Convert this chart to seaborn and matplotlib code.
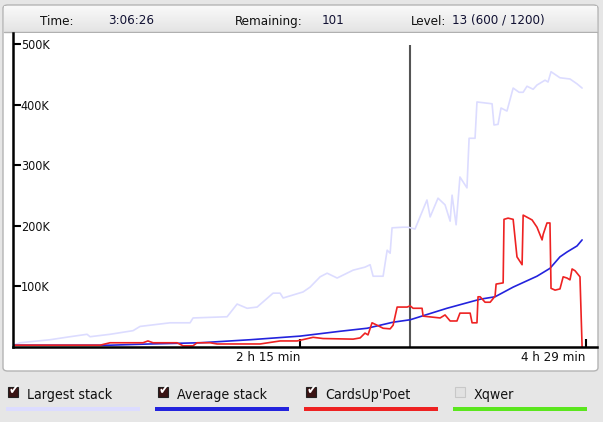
import numpy as np
import pandas as pd
import matplotlib
matplotlib.use("Agg")
import matplotlib.pyplot as plt
import seaborn as sns
from matplotlib.patches import Rectangle, FancyBboxPatch

# ---------------- data (minutes, thousands of chips) ----------------
largest_min = [0, 3.3, 17.4, 26.8, 34.8, 36.2, 45.6, 56.4, 59.7, 73.8, 83.2, 84.6, 100.6, 105.3,
               110, 114.7, 122.2, 125.5, 126.9, 136.3, 139.6, 144.3, 147.6, 152.3, 159.8, 165.4,
               167.8, 169.2, 173.9, 175.8, 177.2, 178.1, 183.3, 185.6, 188.9, 194.5, 196, 199.7,
               203, 205.4, 206.3, 208.2, 210, 213.3, 214.3, 217.1, 218, 225.1, 226, 227.9, 229.3,
               232.1, 235, 237.8, 239.7, 241.5, 244.4, 246.2, 250, 251.4, 252.8, 257, 261.7, 265,
               267.4]
largest_k = [3, 7, 12, 17, 21, 17, 21, 27, 34, 40, 40, 48, 50, 71,
             64, 66, 89, 89, 81, 91, 99, 116, 122, 114, 127, 132,
             136, 117, 117, 160, 155, 197, 198, 198, 195, 243, 215, 246,
             235, 208, 251, 202, 281, 263, 345, 345, 405, 402, 367, 368, 395,
             390, 428, 421, 421, 431, 426, 433, 441, 438, 455, 445, 443, 435,
             428]

average_min = [0, 45.6, 64.4, 87.9, 111.4, 134.9, 153.7, 166.4, 178.6, 186.6, 203.9, 219.5,
               226.5, 235, 246.2, 252.3, 257, 260.3, 265, 267.4]
average_k = [3, 3, 5, 7, 12, 18, 26, 31, 41, 45, 64, 79,
             83, 99, 117, 130, 149, 157, 167, 177]

poet_min = [0.9, 40.9, 45.6, 61.1, 63.4, 65.8, 77.1, 79.9, 84.6, 86.5, 92.6, 95.9, 116.1,
            125.5, 133.5, 141, 145.7, 159.8, 163.1, 165.4, 166.8, 168.7, 171.1, 173.9, 177.2,
            178.6, 180.5, 185.2, 186.6, 188, 192.2, 192.7, 200.7, 203, 205.4, 208.6, 210,
            214.8, 215.7, 218, 218.5, 219.5, 221.8, 224.2, 226.5, 227, 230.3, 230.7, 232.6,
            235, 236.8, 239.2, 239.7, 243.9, 246.2, 248.6, 249.1, 250.9, 252.3, 252.8, 254.7,
            257, 258.5, 260.3, 261.7, 262.7, 264.1, 266.4, 267.4]
poet_k = [3, 3, 7, 7, 10, 7, 7, 2, 2, 7, 7, 5, 5,
          10, 10, 16, 14, 13, 15, 23, 20, 40, 36, 31, 30,
          36, 66, 66, 68, 64, 64, 51, 48, 53, 43, 43, 56,
          56, 40, 40, 83, 83, 74, 74, 84, 104, 106, 211, 213,
          211, 149, 136, 218, 210, 198, 177, 186, 205, 205, 97, 94,
          96, 116, 114, 111, 129, 126, 116, 0]

series_names = ["Largest stack", "Average stack", "CardsUp'Poet", "Xqwer"]
series_colors = ["#dcdcff", "#2323dd", "#ee2222", "#5be61e"]
series_checked = [True, True, True, False]

y_ticks_k = [100, 200, 300, 400, 500]
y_tick_labels = ["100K", "200K", "300K", "400K", "500K"]
x_ticks_min = [135, 269]
x_tick_labels = ["2 h 15 min", "4 h 29 min"]
current_min = 186.43

header_labels = ["Time:", "Remaining:", "Level:"]
header_values = ["3:06:26", "101", "13 (600 / 1200)"]

# ---------------- figure ----------------
W, H = 603, 422
sns.set_theme(style="white")
plt.rcParams["font.family"] = ["DejaVu Sans"]
plt.rcParams["font.stretch"] = "condensed"
FONT = dict(family="DejaVu Sans", stretch="condensed")

fig = plt.figure(figsize=(W / 100, H / 100), dpi=100, facecolor="#e6e6e6")

def fx(px):
    return px / W

def fy(py):
    return 1 - py / H

# outer frame (white panel)
frame = FancyBboxPatch((fx(3), fy(371)), fx(598) - fx(3), fy(5) - fy(371),
                       boxstyle="round,pad=0,rounding_size=0.008", transform=fig.transFigure,
                       facecolor="white", edgecolor="#b4b4b4", linewidth=1.0, zorder=-5)
fig.patches.append(frame)
# header bar
grad = np.linspace(0, 1, 50).reshape(-1, 1)
hax = fig.add_axes([fx(4), fy(32), fx(597) - fx(4), fy(6) - fy(32)], zorder=0.5)
hax.imshow(grad, aspect="auto", cmap=matplotlib.colors.LinearSegmentedColormap.from_list(
    "g", ["#f9f9f9", "#e4e4e4"]), extent=[0, 1, 0, 1])
hax.set_axis_off()
fig.add_artist(plt.Line2D([fx(4), fx(597)], [fy(32), fy(32)], color="#b0b0b0", lw=1.0,
                          transform=fig.transFigure))

hdr_label_x = [40, 235, 411]
hdr_value_x = [108, 322, 452]
for lx, vx, lab, val in zip(hdr_label_x, hdr_value_x, header_labels, header_values):
    fig.text(fx(lx), fy(21.5), lab, fontsize=9.5, color="#111111", va="center", ha="left",
             zorder=3, **FONT)
    fig.text(fx(vx), fy(20), val, fontsize=9.5, color="#111133", va="center", ha="left",
             zorder=3, **FONT)

# main axes
ax = fig.add_axes([fx(13), fy(347), fx(597) - fx(13), fy(33) - fy(347)], zorder=2)
ax.set_facecolor("white")

frames = [
    pd.DataFrame({"t": largest_min, "v": largest_k, "s": series_names[0]}),
    pd.DataFrame({"t": average_min, "v": average_k, "s": series_names[1]}),
    pd.DataFrame({"t": poet_min, "v": poet_k, "s": series_names[2]}),
]
for df, col in zip(frames, series_colors[:3]):
    sns.lineplot(data=df, x="t", y="v", ax=ax, color=col, linewidth=1.2,
                 estimator=None, sort=False, legend=False)

ax.vlines(current_min, 0, 499, color="#555555", linewidth=1.5, zorder=1)

ax.set_xlim(0, 274.4)
ax.set_ylim(0, 519)
for s in ["top", "right"]:
    ax.spines[s].set_visible(False)
for s in ["left", "bottom"]:
    ax.spines[s].set_visible(True)
    ax.spines[s].set_color("black")
    ax.spines[s].set_linewidth(1.8)

ax.set_yticks(y_ticks_k)
ax.set_yticklabels(y_tick_labels)
ax.tick_params(axis="y", direction="in", length=5.5, width=1.5, color="black",
               pad=-5.5, labelsize=9, left=True)
for lab in ax.get_yticklabels():
    lab.set_horizontalalignment("left")
    lab.set_color("#111111")
    lab.set_fontstretch("condensed")

ax.set_xticks(x_ticks_min)
ax.set_xticklabels(x_tick_labels)
ax.tick_params(axis="x", direction="in", length=6, width=1.5, color="black",
               pad=3, labelsize=9.5, bottom=True)
for lab in ax.get_xticklabels():
    lab.set_horizontalalignment("right")
    lab.set_color("#111111")
    lab.set_fontstretch("condensed")
ax.set_xlabel("")
ax.set_ylabel("")
ax.grid(False)

# legend row
leg_x = [8, 158, 306, 455]
bar_x0 = [6, 155, 304, 453]
for x0, bx, name, col, chk in zip(leg_x, bar_x0, series_names, series_colors, series_checked):
    if chk:
        fig.patches.append(Rectangle((fx(x0), fy(397)), fx(10) - fx(0), fy(387) - fy(397),
                                     transform=fig.transFigure, facecolor="#3a1414",
                                     edgecolor="#222222", lw=0.8))
        fig.text(fx(x0 + 5.5), fy(390), "\u2714", fontsize=10, color="white",
                 family="DejaVu Sans", ha="center", va="center", weight="bold")
    else:
        fig.patches.append(Rectangle((fx(x0), fy(397)), fx(10) - fx(0), fy(387) - fy(397),
                                     transform=fig.transFigure, facecolor="#e2e2e2",
                                     edgecolor="#c8c8c8", lw=0.8))
    fig.text(fx(x0 + 19), fy(395.5), name, fontsize=10.2, color="#111111",
             ha="left", va="center", **FONT)
    fig.patches.append(Rectangle((fx(bx), fy(411)), fx(134) - fx(0), fy(407) - fy(411),
                                 transform=fig.transFigure, facecolor=col, edgecolor="none"))

fig.savefig("out.png", dpi=100, facecolor=fig.get_facecolor())
